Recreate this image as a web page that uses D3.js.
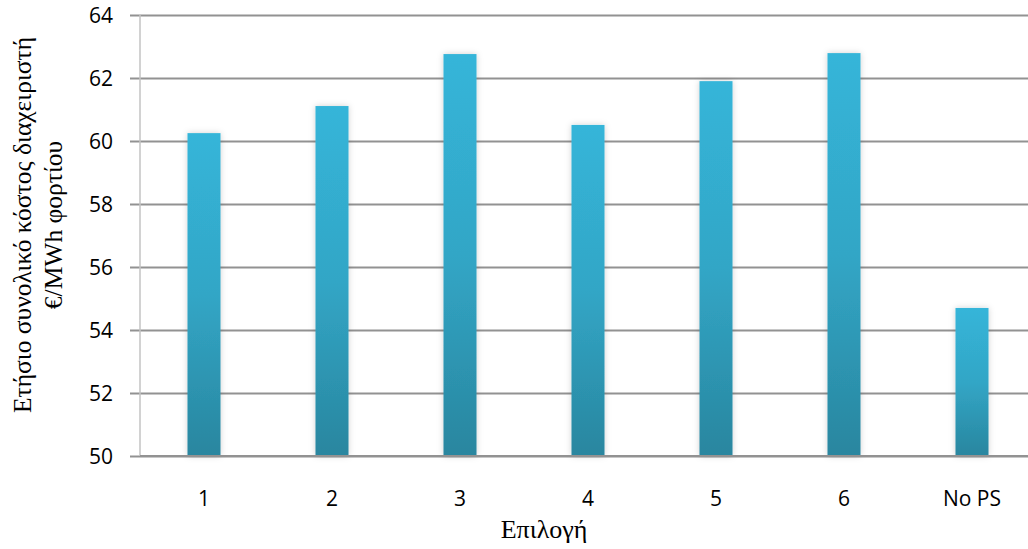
<!DOCTYPE html>
<html><head><meta charset="utf-8">
<script src="https://cdn.jsdelivr.net/npm/d3@7"></script>
<style>body{margin:0;background:#fff;}svg{display:block;}</style>
</head><body>
<svg id="chart" width="1028" height="549"></svg>
<script>
const categories = ["1","2","3","4","5","6","No PS"];
const values = [60.25, 61.11, 62.76, 60.51, 61.90, 62.79, 54.70];
const yTicks = [50,52,54,56,58,60,62,64];
const yTitleLines = ["Ετήσιο συνολικό κόστος διαχειριστή", "€/MWh φορτίου"];
const xTitle = "Επιλογή";

const svg = d3.select("#chart");
const mLeft = 140, mRight = 1036, mTop = 15, mBottom = 456;

const x = d3.scaleBand().domain(categories).range([mLeft, mRight]).paddingInner(0.742).paddingOuter(0.371);
const y = d3.scaleLinear().domain([50, 64]).range([mBottom, mTop]);

const defs = svg.append("defs");
const grad = defs.append("linearGradient").attr("id","barGrad").attr("x1",0).attr("y1",0).attr("x2",0).attr("y2",1);
grad.append("stop").attr("offset","0%").attr("stop-color","#35b5d9");
grad.append("stop").attr("offset","50%").attr("stop-color","#32a6c6");
grad.append("stop").attr("offset","100%").attr("stop-color","#29869f");
const f = defs.append("filter").attr("id","shadow").attr("x","-30%").attr("y","-10%").attr("width","160%").attr("height","120%");
f.append("feDropShadow").attr("dx",0).attr("dy",0).attr("stdDeviation",3).attr("flood-color","#000").attr("flood-opacity",0.18);

// gridlines
const yAxis = d3.axisLeft(y).tickValues(yTicks).tickSize(10).tickFormat(d3.format("d"));
const gy = svg.append("g").attr("transform",`translate(${mLeft},0)`).call(yAxis);
gy.select(".domain").remove();
gy.selectAll(".tick line").attr("stroke","#929292").attr("stroke-width",2).attr("x2",-10).attr("x1",mRight-mLeft);
gy.selectAll(".tick text").attr("x",-27).attr("dy","0.36em")
  .attr("font-family","'Open Sans', sans-serif").attr("font-size",21).attr("fill","#000");

// left axis line
svg.append("line").attr("x1",mLeft).attr("x2",mLeft).attr("y1",mTop).attr("y2",mBottom)
  .attr("stroke","#c3c3c3").attr("stroke-width",1.5);

// bars
svg.append("g").selectAll("rect").data(values).join("rect")
  .attr("x",(d,i)=>x(categories[i]))
  .attr("width",x.bandwidth())
  .attr("y",d=>y(d))
  .attr("height",d=>y(50)-y(d))
  .attr("fill","url(#barGrad)")
  .attr("filter","url(#shadow)");

// redraw baseline on top
svg.append("line").attr("x1",mLeft).attr("x2",mRight).attr("y1",y(50)).attr("y2",y(50))
  .attr("stroke","#929292").attr("stroke-width",2);

// x axis labels
const xAxis = d3.axisBottom(x).tickSize(0);
const gx = svg.append("g").attr("transform",`translate(0,${mBottom})`).call(xAxis);
gx.select(".domain").remove();
gx.selectAll(".tick text").attr("y",42).attr("dy","0.36em")
  .attr("font-family","'Open Sans', sans-serif").attr("font-size",21).attr("fill","#000");

// x title
svg.append("text").attr("x",544).attr("y",538).attr("text-anchor","middle")
  .attr("font-family","'Liberation Serif', 'Times New Roman', serif").attr("font-size",26).attr("fill","#000")
  .text(xTitle);

// y title
const yt = svg.append("text").attr("transform","translate(0,225) rotate(-90)")
  .attr("text-anchor","middle")
  .attr("font-family","'Liberation Serif', 'Times New Roman', serif").attr("font-size",25.5).attr("fill","#000");
yt.selectAll("tspan").data(yTitleLines).join("tspan")
  .attr("x",0).attr("y",(d,i)=> i===0 ? 31 : 62).text(d=>d);
</script>
</body></html>
